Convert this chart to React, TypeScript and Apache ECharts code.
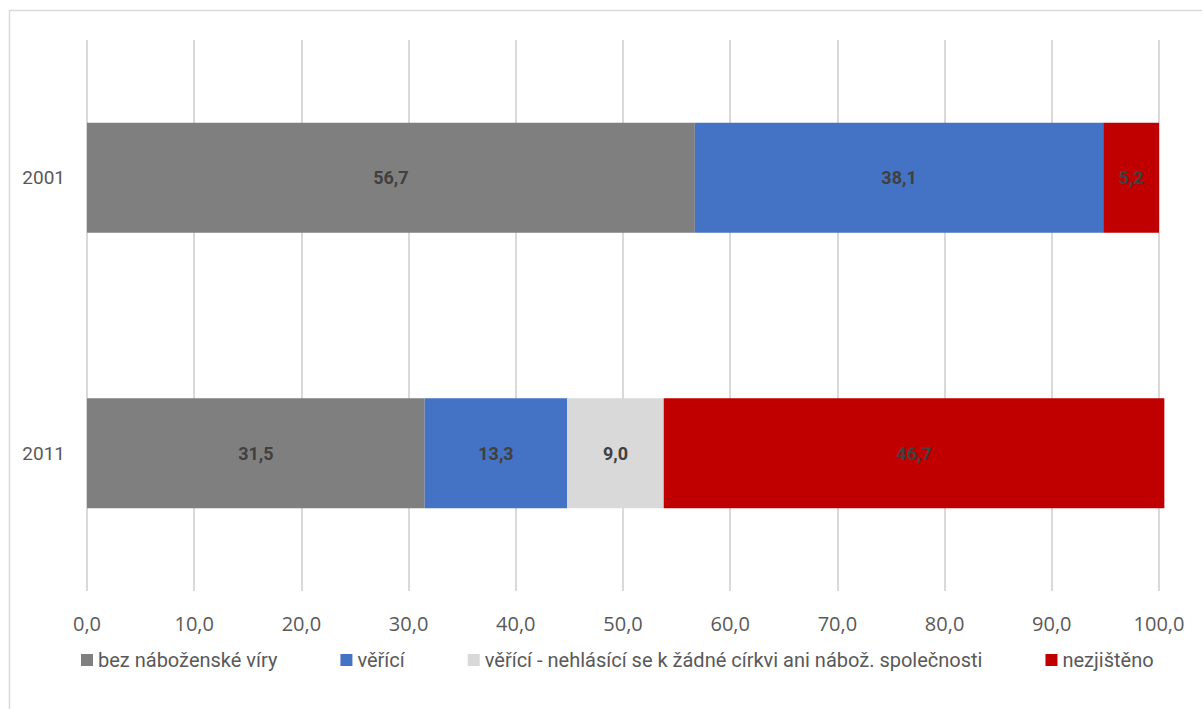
import React, { useEffect, useRef } from "react";
import * as echarts from "echarts";

const years = ["2001", "2011"];
const seriesNames = [
  "bez náboženské víry",
  "věřící",
  "věřící - nehlásící se k žádné církvi ani nábož. společnosti",
  "nezjištěno",
];
const bezViry = [56.7, 31.5];
const verici = [38.1, 13.3];
const vericiNehlasici = [null, 9.0];
const nezjisteno = [5.2, 46.7];
const colors = ["#7f7f7f", "#4472c4", "#d9d9d9", "#c00000"];

const narrow = "Roboto, 'Noto Sans', sans-serif";
const fmt = (v: number) => v.toFixed(1).replace(".", ",");

export default function App() {
  const ref = useRef<HTMLDivElement>(null);
  useEffect(() => {
    const chart = echarts.init(ref.current!, undefined, { renderer: "svg" });
    const values = [bezViry, verici, vericiNehlasici, nezjisteno];
    chart.setOption({
      animation: false,
      backgroundColor: "#ffffff",
      color: colors,
      grid: { left: 87, right: 43, top: 40, bottom: 118, containLabel: false },
      xAxis: {
        type: "value",
        min: 0,
        max: 100,
        interval: 10,
        axisLine: { show: false },
        axisTick: { show: false },
        splitLine: { lineStyle: { color: "#d9d9d9", width: 2 } },
        axisLabel: {
          formatter: (v: number) => fmt(v),
          color: "#595959",
          fontFamily: "'Open Sans', sans-serif",
          fontSize: 20,
          lineHeight: 20,
          margin: 22,
        },
      },
      yAxis: {
        type: "category",
        data: years,
        inverse: true,
        axisLine: { show: false },
        axisTick: { show: false },
        axisLabel: { color: "#595959", fontFamily: narrow, fontSize: 19, margin: 22 },
      },
      legend: {
        left: 81,
        top: 650,
        padding: 0,
        itemWidth: 12,
        itemHeight: 12,
        itemGap: 63,
        icon: "rect",
        textStyle: { color: "#595959", fontFamily: narrow, fontSize: 20, lineHeight: 20 },
        data: seriesNames,
      },
      graphic: [
        {
          type: "rect",
          shape: { x: 9.5, y: 10.5, width: 1200, height: 710 },
          style: { fill: "none", stroke: "#d9d9d9", lineWidth: 1.5 },
          silent: true,
        },
      ],
      series: seriesNames.map((name, i) => ({
        name,
        type: "bar",
        stack: "total",
        barWidth: "40%",
        clip: false,
        data: values[i],
        itemStyle: { color: colors[i] },
        label: {
          show: true,
          position: "inside",
          formatter: (p: any) => fmt(p.value),
          color: "#404040",
          fontFamily: narrow,
          fontWeight: "bold",
          fontSize: 18,
        },
      })),
    });
    return () => chart.dispose();
  }, []);
  return (
    <div
      ref={ref}
      style={{ position: "absolute", left: 0, top: 0, width: 1202, height: 709 }}
    />
  );
}
